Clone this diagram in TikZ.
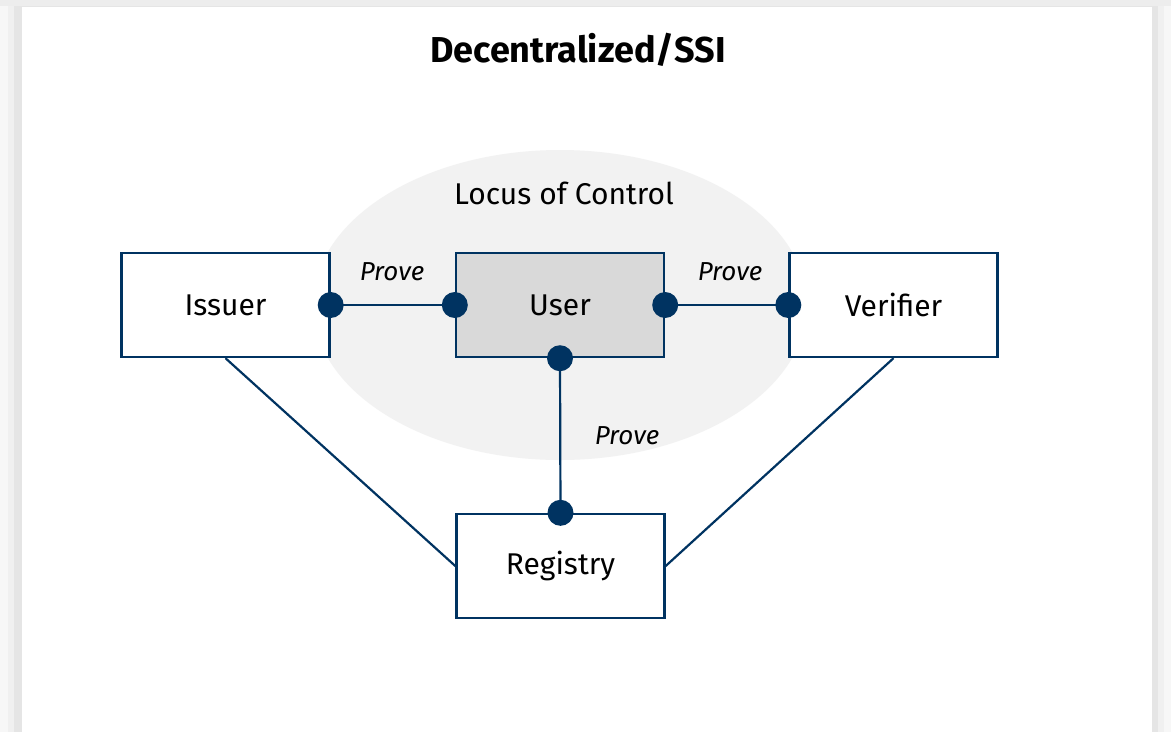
\documentclass[tikz,border=0pt]{standalone}
\usepackage{fontspec}
\setmainfont{Fira Sans}
\definecolor{navy}{RGB}{0,51,97}
\definecolor{locus}{RGB}{242,242,242}
\definecolor{userfill}{RGB}{217,217,217}
\begin{document}
\begin{tikzpicture}[x=1pt,y=-1pt,
  party/.style={draw=navy, line width=2.4pt, fill=white, minimum width=208pt, minimum height=104pt, inner sep=0pt, font=\fontsize{30}{34}\selectfont},
  link/.style={draw=navy, line width=2.2pt},
  dot/.style={circle, fill=navy, minimum size=26pt, inner sep=0pt},
  proof/.style={font=\fontsize{26}{30}\selectfont\itshape, text=black}]
  % page and its drop shadow
  \useasboundingbox (0,0) rectangle (1171,732);
  \fill[black!3] (0,0) rectangle (1171,732);
  \fill[black!6] (8,0) rectangle (1164,732);
  \fill[black!10] (14,6) rectangle (1158,732);
  \fill[black!7] (0,0) rectangle (1171,6);
  \fill[white] (22,7) rectangle (1152,732);

  \node[font=\fontsize{36}{40}\selectfont\bfseries] (title) at (578,50) {Decentralized/SSI};

  % area the user controls
  \fill[locus] (560,305) ellipse [x radius=247, y radius=155];
  \node[font=\fontsize{30}{34}\selectfont] (locus) at (564,193) {Locus of Control};

  % parties
  \node[party] (issuer) at (225.5,305) {Issuer};
  \node[party, fill=userfill] (user) at (560,305) {User};
  \node[party] (verifier) at (893.5,305) {Verifier};
  \node[party] (registry) at (560.5,566) {Registry};

  % connectors
  \draw[link] (issuer.east) -- (user.west);
  \draw[link] (user.east) -- (verifier.west);
  \draw[link] (user.south) -- (registry.north);
  \draw[link] (issuer.south) -- (registry.west);
  \draw[link] (verifier.south) -- (registry.east);

  \node[dot] (d1) at (issuer.east) {};
  \node[dot] (d2) at (user.west) {};
  \node[dot] (d3) at (user.east) {};
  \node[dot] (d4) at (verifier.west) {};
  \node[dot] (d5) at (user.south) {};
  \node[dot] (d6) at (registry.north) {};

  \node[proof] (p1) at (392,272) {Prove};
  \node[proof] (p2) at (730,272) {Prove};
  \node[proof] (p3) at (627,436) {Prove};
\end{tikzpicture}
\end{document}
